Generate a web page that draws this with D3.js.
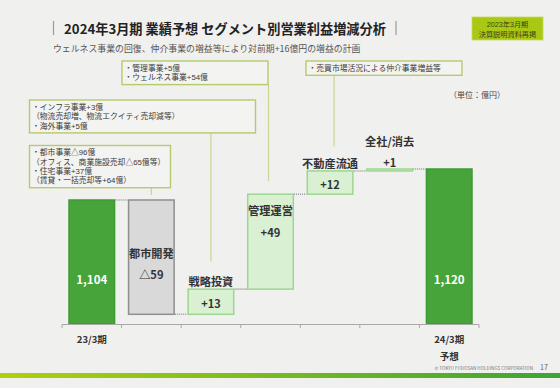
<!DOCTYPE html>
<html lang="ja"><head><meta charset="utf-8">
<script src="https://cdn.jsdelivr.net/npm/d3@7"></script>
<style>
html,body{margin:0;padding:0;background:#f0f0ef;}
svg{display:block;font-family:"Noto Sans CJK JP","Noto Sans",sans-serif;}
.note{font-family:"Liberation Sans","Noto Sans CJK JP",sans-serif;}
</style></head>
<body>
<svg id="c" width="560" height="388"></svg>
<script>
// ---- data ----
const categories = ["23/3期","都市開発","戦略投資","管理運営","不動産流通","全社/消去","24/3期"];
const values = [1104, -59, 13, 49, 12, 1, 1120];
const kinds = ["total","delta","delta","delta","delta","delta","total"];
const valueLabels = ["1,104","△59","+13","+49","+12","+1","1,120"];
const axisLabels = ["23/3期","","","","","","24/3期"];
const axisSubLabels = ["","","","","","","予想"];
const title = "2024年3月期 業績予想 セグメント別営業利益増減分析";
const subtitle = "ウェルネス事業の回復、仲介事業の増益等により対前期+16億円の増益の計画";
const badgeLines = ["2023年3月期","決算説明資料再掲"];
const unitLabel = "（単位：億円）";
const noteCity = ["・都市事業△96億","（オフィス、商業施設売却△65億等）","・住宅事業+37億","（賃貸・一括売却等+64億）"];
const noteStrategic = ["・インフラ事業+3億","（物流売却増、物流エクイティ売却減等）","・海外事業+5億"];
const noteManagement = ["・管理事業+5億","・ウェルネス事業+54億"];
const noteBrokerage = ["・売買市場活況による仲介事業増益等"];
const yDomain = [1040, 1120];

// ---- build ----
const svg = d3.select("#c");
svg.append("rect").attr("width",560).attr("height",388).attr("fill","#f0f0ef");

const x = d3.scaleBand().domain(categories).range([62,479]).paddingInner(0.21).paddingOuter(0.105);
const y = d3.scaleLinear().domain(yDomain).range([324,169]);

// running totals
let run = 0;
const bars = categories.map((c,i)=>{
  let lo, hi;
  if (kinds[i]==="total"){ lo = yDomain[0]; hi = values[i]; run = values[i]; }
  else { const s = run, e = run + values[i]; lo = Math.min(s,e); hi = Math.max(s,e); run = e; }
  return {c, i, lo, hi, end: run, kind: kinds[i], v: values[i]};
});

// connectors (dotted)
const gConn = svg.append("g");
bars.slice(0,-1).forEach((b,i)=>{
  const nb = bars[i+1];
  gConn.append("line")
    .attr("x1", x(b.c)+x.bandwidth()).attr("x2", x(nb.c))
    .attr("y1", y(b.end)).attr("y2", y(b.end))
    .attr("stroke","#999").attr("stroke-width",1.6).attr("stroke-dasharray","1,1");
});

// bars
svg.append("g").selectAll("rect").data(bars).join("rect")
  .attr("x", d=>x(d.c)+0.75).attr("width", x.bandwidth()-1.5)
  .attr("y", d=>y(d.hi)).attr("height", d=>Math.max(1.2, y(d.lo)-y(d.hi)))
  .attr("fill", d=> d.kind==="total" ? "#46a43b" : (d.v<0 ? "#d9d9d9" : "#d9f0d3"))
  .attr("stroke", d=> d.kind==="total" ? "#3d9b34" : (d.v<0 ? "#8f8f8f" : "#9ed691"))
  .attr("stroke-width",1.5);

// axis
const axG = svg.append("g");
axG.append("line").attr("x1",62).attr("x2",479).attr("y1",324.5).attr("y2",324.5).attr("stroke","#a8a8a8").attr("stroke-width",1);
const step = x.step();
d3.range(categories.length+1).forEach(k=>{
  const xx = 62 + k*step;
  axG.append("line").attr("x1",xx).attr("x2",xx).attr("y1",324.5).attr("y2",328).attr("stroke","#a8a8a8");
});
axisLabels.forEach((t,i)=>{
  if(!t) return;
  axG.append("text").attr("x", x(categories[i])+x.bandwidth()/2).attr("y",339)
    .attr("text-anchor","middle").attr("dominant-baseline","central")
    .attr("font-size",9.5).attr("font-weight",700).attr("fill","#333").text(t);
});
axisSubLabels.forEach((t,i)=>{
  if(!t) return;
  axG.append("text").attr("x", x(categories[i])+x.bandwidth()/2).attr("y",356)
    .attr("text-anchor","middle").attr("dominant-baseline","central")
    .attr("font-size",9.5).attr("font-weight",700).attr("fill","#333").text(t);
});

// labels
const gl = svg.append("g");
function lab(xx,yy,t,size,col,w){
  gl.append("text").attr("x",xx).attr("y",yy).attr("text-anchor","middle").attr("dominant-baseline","central")
    .attr("font-size",size).attr("font-weight",w||700).attr("fill",col).text(t);
}
bars.forEach(b=>{
  const cx = x(b.c)+x.bandwidth()/2;
  const top = y(b.hi), bot = y(b.lo), h = bot-top;
  if (b.kind==="total"){
    lab(cx, 324-45, valueLabels[b.i], 11.5, "#ffffff", 700);
  } else if (h > 80){
    const mid = (top+bot)/2;
    if (b.v<0){
      lab(cx, mid-4.5, b.c, 11.2, "#333", 700);
      lab(cx, mid+16.5, valueLabels[b.i], 11.2, "#333", 700);
    } else {
      lab(cx, top+16, b.c, 11.2, "#333", 700);
      lab(cx, top+37.5, valueLabels[b.i], 11.2, "#333", 700);
    }
  } else if (h > 10){
    lab(cx, top-8, b.c, 11.2, "#333", 700);
    lab(cx, (top+bot)/2+1, valueLabels[b.i], 11, "#333", 700);
  } else {
    lab(cx, top-28.5, b.c, 11.2, "#333", 700);
    lab(cx, top-7.5, valueLabels[b.i], 11, "#333", 700);
  }
});

// annotation boxes (one multi-line text per box)
function note(lines, bx, by, bw, lx, ly2){
  const lh = 9.3, h = lines.length*lh + 5;
  svg.append("line").attr("x1",lx).attr("x2",lx).attr("y1",by+h).attr("y2",ly2)
    .attr("stroke","#c9d693").attr("stroke-width",1.2);
  svg.append("rect").attr("x",bx).attr("y",by).attr("width",bw).attr("height",h)
    .attr("fill","#f3f3f1").attr("stroke","#b6ca6e").attr("stroke-width",1.4);
  const t = svg.append("text").attr("class","note").attr("font-size",7.8).attr("fill","#3a3a3a");
  lines.forEach((s,k)=>{
    t.append("tspan").attr("x",bx+2.5).attr("y",by+2.5+lh*(k+0.5)+2.8).text(s);
  });
}
const cxOf = c => x(c)+x.bandwidth()/2;
note(noteCity, 29.5, 145.5, 141, cxOf("都市開発"), y(bars[1].hi)-5);
note(noteStrategic, 29.5, 100, 226, cxOf("戦略投資"), 261.5);
note(noteManagement, 122, 61, 146, cxOf("管理運営")-2, 181);
note(noteBrokerage, 306, 61, 156, cxOf("不動産流通")+4, 146.5);

// header
svg.append("text").attr("x",225).attr("y",28).attr("text-anchor","middle").attr("dominant-baseline","central")
  .attr("font-size",13.2).attr("font-weight",700).attr("fill","#222").text(title);
[53.5, 396].forEach(xx=>svg.append("line").attr("x1",xx).attr("x2",xx).attr("y1",21).attr("y2",35).attr("stroke","#9a9a9a").attr("stroke-width",1.2));
svg.append("text").attr("x",53).attr("y",48).attr("dominant-baseline","central")
  .attr("font-size",8.9).attr("fill","#555").text(subtitle);

// badge
svg.append("rect").attr("x",472).attr("y",17).attr("width",71).attr("height",23).attr("fill","#a9c813").attr("stroke","#c5dc5c").attr("stroke-width",0.8);
const bt = svg.append("text").attr("class","note").attr("text-anchor","middle").attr("font-size",7.2).attr("fill","#3d3f1e");
badgeLines.forEach((s,k)=>bt.append("tspan").attr("x",507.5).attr("y",26.5+k*10).text(s));

// unit
svg.append("text").attr("x",477).attr("y",94).attr("text-anchor","middle").attr("dominant-baseline","central")
  .attr("font-size",8).attr("fill","#444").text(unitLabel);

// footer
svg.append("text").attr("x",533).attr("y",367.5).attr("text-anchor","end").attr("dominant-baseline","central")
  .attr("font-size",4.6).attr("fill","#777").text("© TOKYU FUDOSAN HOLDINGS CORPORATION");
svg.append("text").attr("x",540).attr("y",367).attr("dominant-baseline","central")
  .attr("font-size",7).attr("fill","#666").text("17");
const grad = svg.append("defs").append("linearGradient").attr("id","gb");
grad.append("stop").attr("offset","0%").attr("stop-color","#b0d00c");
grad.append("stop").attr("offset","100%").attr("stop-color","#3da436");
svg.append("rect").attr("x",0).attr("y",373).attr("width",560).attr("height",5).attr("fill","url(#gb)");
</script>
</body></html>
